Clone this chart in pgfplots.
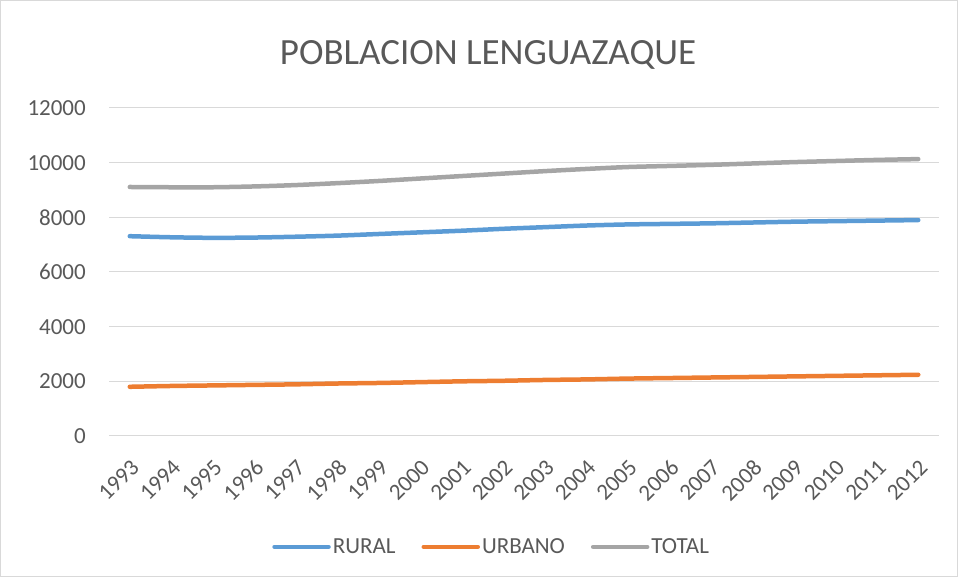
\documentclass[border=0pt]{standalone}
\usepackage{pgfplots}
\pgfplotsset{compat=1.18}
\usepackage{fontspec}
\setmainfont{Carlito}
\definecolor{cblue}{HTML}{5B9BD5}
\definecolor{corange}{HTML}{ED7D31}
\definecolor{cgray}{HTML}{A5A5A5}
\definecolor{ctext}{HTML}{595959}
\definecolor{cgrid}{HTML}{D9D9D9}
\begin{document}
\begin{tikzpicture}[x=1pt,y=1pt]
\path[use as bounding box] (0,0) rectangle (958,577);
\draw[cgrid, line width=1pt] (0.5,0.5) rectangle (957.5,576.5);
\node[text=ctext, font=\fontsize{37}{42}\selectfont] at (488,522) {POBLACION LENGUAZAQUE};
\begin{axis}[
  at={(109pt,141pt)}, anchor=south west,
  scale only axis, width=830pt, height=328pt,
  xmin=-0.5, xmax=19.5, ymin=0, ymax=12000,
  ytick={0,2000,4000,6000,8000,10000,12000},
  scaled y ticks=false,
  xtick={0,...,19},
  xticklabels={1993,1994,1995,1996,1997,1998,1999,2000,2001,2002,2003,2004,2005,2006,2007,2008,2009,2010,2011,2012},
  axis line style={draw=none},
  major tick length=0pt,
  ymajorgrids, grid style={cgrid, line width=1pt},
  tick label style={text=ctext, font=\fontsize{23}{27}\selectfont, inner sep=0pt},
  /pgf/number format/assume math mode=true,
  /pgf/number format/set thousands separator={},
  yticklabel style={anchor=east, xshift=-23pt},
  xticklabel shift=22pt,
  xticklabel style={rotate=45, anchor=north east},
  legend style={at={(0.461,-0.338)}, anchor=center, draw=none, fill=none,
    legend columns=3, font=\fontsize{23}{27}\selectfont, text=ctext,
    /tikz/every even column/.append style={column sep=24pt}},
  legend image code/.code={\draw[#1, line cap=round] (0pt,0pt) -- (54pt,0pt);},
  every axis plot/.append style={line width=4.5pt, line cap=round, smooth, tension=0.5},
]
\addplot[cblue] coordinates {(0,7310)(1,7270)(2,7250)(3,7260)(4,7290)(5,7330)(6,7390)(7,7450)(8,7510)(9,7580)(10,7640)(11,7700)(12,7740)(13,7760)(14,7780)(15,7810)(16,7840)(17,7860)(18,7880)(19,7900)};
\addlegendentry{RURAL}
\addplot[corange] coordinates {(0,1800)(1,1830)(2,1850)(3,1870)(4,1890)(5,1920)(6,1940)(7,1970)(8,2000)(9,2020)(10,2050)(11,2070)(12,2100)(13,2120)(14,2140)(15,2160)(16,2180)(17,2200)(18,2220)(19,2240)};
\addlegendentry{URBANO}
\addplot[cgray] coordinates {(0,9110)(1,9100)(2,9100)(3,9130)(4,9180)(5,9250)(6,9330)(7,9420)(8,9510)(9,9600)(10,9690)(11,9770)(12,9840)(13,9880)(14,9920)(15,9970)(16,10020)(17,10060)(18,10100)(19,10130)};
\addlegendentry{TOTAL}
\end{axis}
\end{tikzpicture}
\end{document}
